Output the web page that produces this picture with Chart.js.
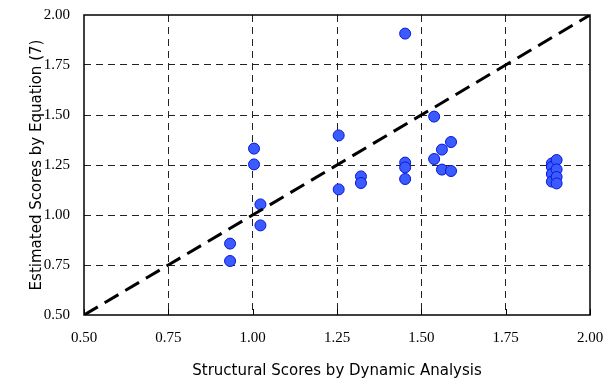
<!DOCTYPE html>
<html>
<head>
<meta charset="utf-8">
<script src="https://cdn.jsdelivr.net/npm/chart.js@4.4.0/dist/chart.umd.min.js"></script>
<style>
  html, body { margin: 0; padding: 0; background: #fff; }
  #wrap { width: 614px; height: 382px; }
</style>
</head>
<body>
<div id="wrap"><canvas id="scoreChart" width="614" height="382"></canvas></div>
<script>
// structural score (dynamic analysis) vs estimated score (equation 7)
const dynamicScores = [0.933, 0.933, 1.004, 1.004, 1.023, 1.023, 1.255, 1.255, 1.321, 1.321,
  1.452, 1.452, 1.452, 1.452, 1.538, 1.538, 1.561, 1.561, 1.588, 1.588,
  1.887, 1.887, 1.887, 1.887, 1.901, 1.901, 1.901, 1.901];
const estimatedScores = [0.857, 0.770, 1.332, 1.253, 1.053, 0.948, 1.398, 1.128, 1.193, 1.160,
  1.907, 1.262, 1.238, 1.180, 1.492, 1.280, 1.327, 1.227, 1.365, 1.220,
  1.258, 1.240, 1.205, 1.167, 1.275, 1.228, 1.190, 1.158];
const refLineX = [0.5, 2.0];
const refLineY = [0.5, 2.0];
const axisMin = 0.5;
const axisMax = 2.0;
const axisStep = 0.25;

const points = dynamicScores.map((x, i) => ({ x: x, y: estimatedScores[i] }));
const refLine = refLineX.map((x, i) => ({ x: x, y: refLineY[i] }));

// frame box and inward tick marks
const framePlugin = {
  id: "frame",
  afterDatasetsDraw(chart) {
    const { ctx, chartArea: a, scales } = chart;
    ctx.save();
    ctx.strokeStyle = "#000";
    ctx.lineWidth = 1;
    ctx.setLineDash([]);
    scales.x.ticks.forEach((t) => {
      const px = Math.round(scales.x.getPixelForValue(t.value)) + 0.5;
      ctx.beginPath();
      ctx.moveTo(px, a.bottom);
      ctx.lineTo(px, a.bottom - 6);
      ctx.stroke();
    });
    ctx.lineWidth = 1.5;
    ctx.strokeRect(a.left, a.top, a.right - a.left, a.bottom - a.top);
    ctx.restore();
  },
};

function gridColor(c) {
  const v = c.tick ? c.tick.value : null;
  if (v === null || Math.abs(v - axisMin) < 1e-6 || Math.abs(v - axisMax) < 1e-6) {
    return "rgba(0,0,0,0)";
  }
  return "#222";
}

new Chart(document.getElementById("scoreChart"), {
  type: "scatter",
  data: {
    datasets: [
      {
        type: "line",
        data: refLine,
        borderColor: "#000",
        borderWidth: 3,
        borderDash: [16, 8],
        pointRadius: 0,
        fill: false,
      },
      {
        data: points,
        backgroundColor: "#3a5cff",
        borderColor: "#0a14dd",
        borderWidth: 1,
        pointRadius: 5.5,
      },
    ],
  },
  options: {
    responsive: false,
    animation: false,
    layout: { padding: { top: 15, right: 24, left: 0, bottom: 0 } },
    plugins: { legend: { display: false }, tooltip: { enabled: false } },
    scales: {
      x: {
        type: "linear",
        min: axisMin,
        max: axisMax,
        afterFit(s) { s.height = 67; s.paddingLeft = 0; s.paddingRight = 0; },
        ticks: {
          stepSize: axisStep,
          padding: 14,
          color: "#000",
          font: { family: "Liberation Serif", size: 15 },
          callback: (v) => v.toFixed(2),
        },
        grid: { color: gridColor, drawTicks: false, lineWidth: 1 },
        border: { display: false, dash: [7, 5] },
        title: {
          display: true,
          text: "Structural Scores by Dynamic Analysis",
          color: "#000",
          font: { family: "DejaVu Sans", size: 15 },
          padding: { top: 0, bottom: 2 },
        },
      },
      y: {
        type: "linear",
        min: axisMin,
        max: axisMax,
        afterFit(s) { s.width = 84; s.paddingTop = 0; s.paddingBottom = 0; },
        ticks: {
          stepSize: axisStep,
          padding: 14,
          color: "#000",
          font: { family: "Liberation Serif", size: 15 },
          callback: (v) => v.toFixed(2),
        },
        grid: { color: gridColor, drawTicks: false, lineWidth: 1 },
        border: { display: false, dash: [7, 5] },
        title: {
          display: true,
          text: "Estimated Scores by Equation (7)",
          color: "#000",
          font: { family: "DejaVu Sans", size: 15 },
          padding: { top: 28, bottom: 0 },
        },
      },
    },
  },
  plugins: [framePlugin],
});
</script>
</body>
</html>
